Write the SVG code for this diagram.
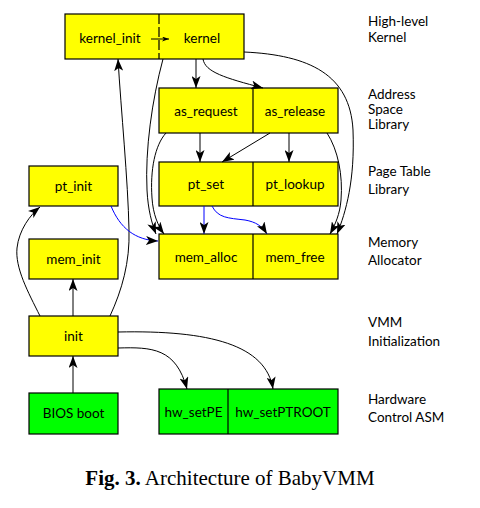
<svg xmlns="http://www.w3.org/2000/svg" width="480" height="508" viewBox="0 0 480 508">
<style>
.y{fill:#ffff00;stroke:#000;stroke-width:1.2}
.g{fill:#00ff00;stroke:#000;stroke-width:1.2}
.d{stroke:#000;stroke-width:1.2}
.t{font-family:Lato,"Open Sans",sans-serif;font-size:13.5px;fill:#000;text-anchor:middle}
.l{font-family:Lato,"Open Sans",sans-serif;font-size:13.5px;fill:#000}
.e{fill:none;stroke:#000;stroke-width:1;marker-end:url(#a)}
.b{fill:none;stroke:#0000ff;stroke-width:1;marker-end:url(#a)}
</style>
<defs>
<marker id="a" markerUnits="userSpaceOnUse" markerWidth="12" markerHeight="9" refX="12" refY="4.5" orient="auto">
<path d="M0,0 L12,4.5 L0,9 L3,4.5 z" fill="#000"/>
</marker>
<marker id="s" markerUnits="userSpaceOnUse" markerWidth="7" markerHeight="5" refX="7" refY="2.5" orient="auto">
<path d="M0,0 L7,2.5 L0,5 L2,2.5 z" fill="#000"/>
</marker>
</defs>
<rect width="480" height="508" fill="#fff"/>

<g id="kernel">
<rect class="y" x="65" y="14" width="179" height="45"/>
<line x1="159" y1="14" x2="159" y2="59" stroke="#000" stroke-width="1.2" stroke-dasharray="10,3"/>
<text class="t" x="110" y="43">kernel_init</text>
<text class="t" x="202" y="43">kernel</text>
</g>
<g id="as">
<rect class="y" x="159" y="88" width="179" height="45"/>
<line class="d" x1="253" y1="88" x2="253" y2="133"/>
<text class="t" x="206" y="116">as_request</text>
<text class="t" x="295" y="116">as_release</text>
</g>
<g id="pt_init">
<rect class="y" x="29" y="166" width="89" height="40"/>
<text class="t" x="73.5" y="191">pt_init</text>
</g>
<g id="pt">
<rect class="y" x="159" y="162" width="179" height="44"/>
<line class="d" x1="253" y1="162" x2="253" y2="206"/>
<text class="t" x="206" y="189">pt_set</text>
<text class="t" x="295" y="189">pt_lookup</text>
</g>
<g id="mem_init">
<rect class="y" x="29" y="239" width="89" height="40"/>
<text class="t" x="73.5" y="264">mem_init</text>
</g>
<g id="mem">
<rect class="y" x="159" y="234" width="179" height="45"/>
<line class="d" x1="253" y1="234" x2="253" y2="279"/>
<text class="t" x="206" y="262">mem_alloc</text>
<text class="t" x="295" y="262">mem_free</text>
</g>
<g id="init">
<rect class="y" x="29" y="316" width="89" height="40"/>
<text class="t" x="73.5" y="341">init</text>
</g>
<g id="bios">
<rect class="g" x="29" y="393" width="89" height="41"/>
<text class="t" x="73.5" y="418">BIOS boot</text>
</g>
<g id="hw">
<rect class="g" x="159" y="389" width="179" height="45"/>
<line class="d" x1="228" y1="389" x2="228" y2="434"/>
<text class="t" x="193.5" y="417">hw_setPE</text>
<text class="t" x="283" y="417">hw_setPTROOT</text>
</g>

<g id="connectors">
<path d="M151,39 L169,39" fill="none" stroke="#000" stroke-width="1" marker-end="url(#s)"/>
<path class="e" d="M110,316 C122,290 130,262 129,230 C128,180 121,110 118,59"/>
<path class="e" d="M40,316 C28,292 15,268 17,248 C19,230 30,215 40,207"/>
<path class="e" d="M73,316 L73,279"/>
<path class="e" d="M73,393 L73,356"/>
<path class="e" d="M118,348 C152,347 176,348 187,389"/>
<path class="e" d="M118,332 C210,330 266,345 273,389"/>
<path class="e" d="M196,59 L196,88"/>
<path class="e" d="M203,59 C205,72 225,78 263,88"/>
<path class="e" d="M163,59 C152,100 145,150 147,190 C148,210 152,224 156,234"/>
<path class="e" d="M166,133 C155,145 150,170 152,198 C153,214 158,226 164,234"/>
<path class="e" d="M200,133 L200,162"/>
<path class="e" d="M270,133 L222,162"/>
<path class="e" d="M289,133 L289,162"/>
<path class="e" d="M327,133 C338,150 343,175 341,200 C340,214 335,225 330,234"/>
<path class="e" d="M244,52 C310,55 350,75 353,130 C355,180 346,212 337,234"/>
<path class="b" d="M204,206 L204,234"/>
<path class="b" d="M212,206 C218,218 228,218 245,220 C256,222 262,226 267,234"/>
<path class="b" d="M111,206 C120,228 135,240 158,241"/>
</g>

<g id="labels">
<text class="l" x="368" y="26">High-level</text>
<text class="l" x="368" y="42">Kernel</text>
<text class="l" x="368" y="99" font-size="13px">Address</text>
<text class="l" x="368" y="114" font-size="13px">Space</text>
<text class="l" x="368" y="129" font-size="13px">Library</text>
<text class="l" x="368" y="176">Page Table</text>
<text class="l" x="368" y="194">Library</text>
<text class="l" x="368" y="247">Memory</text>
<text class="l" x="368" y="265">Allocator</text>
<text class="l" x="368" y="327">VMM</text>
<text class="l" x="368" y="346">Initialization</text>
<text class="l" x="368" y="404">Hardware</text>
<text class="l" x="368" y="422">Control ASM</text>
</g>

<text x="230" y="485" font-family="'Liberation Serif',serif" font-size="21" text-anchor="middle" fill="#000"><tspan font-weight="bold">Fig. 3.</tspan> Architecture of BabyVMM</text>
</svg>
